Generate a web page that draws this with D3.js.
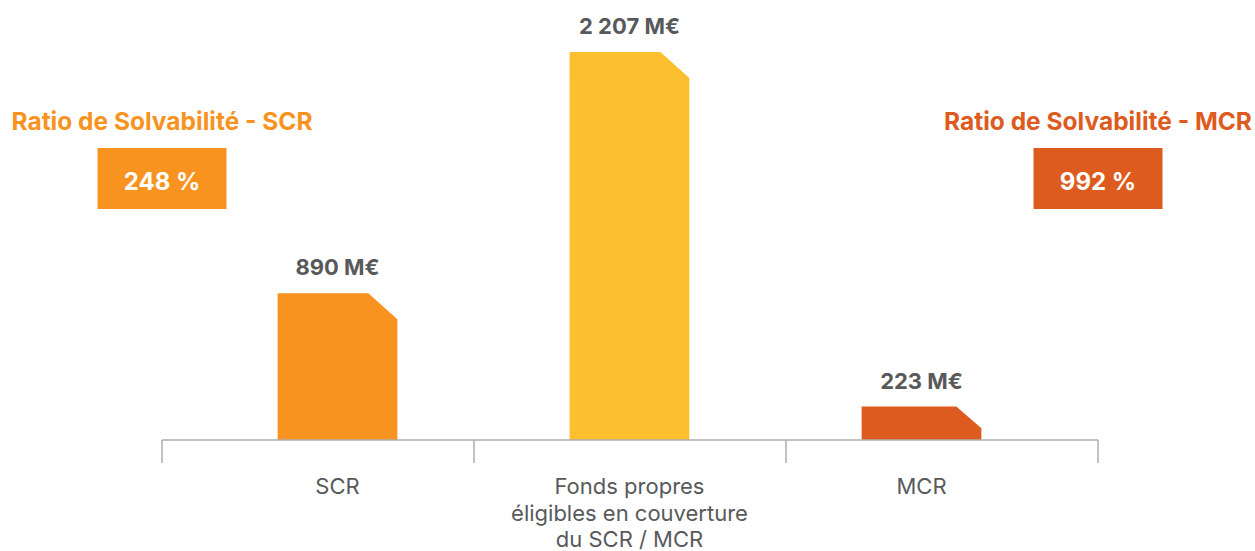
<!DOCTYPE html>
<html>
<head>
<meta charset="utf-8">
<script src="https://cdn.jsdelivr.net/npm/d3@7"></script>
<style>
  body { margin: 0; background: #fff; }
  svg { display: block; font-family: Inter, Lato, sans-serif; }
</style>
</head>
<body>
<div class="container"></div>
<script>
// chart data
const categories = ["SCR", "Fonds propres|éligibles en couverture|du SCR / MCR", "MCR"];
const values = [890, 2207, 223];
const valueLabels = ["890 M€", "2 207 M€", "223 M€"];
const barColors = ["#F7931E", "#FBBF2F", "#DD5B1E"];
const ratioTitles = ["Ratio de Solvabilité - SCR", "Ratio de Solvabilité - MCR"];
const ratioValues = ["248 %", "992 %"];
const ratioColors = ["#F7931E", "#DD5B1E"];

const width = 1255;
const height = 551;
const baseY = 440;

const svg = d3.select(".container")
  .append("svg")
  .attr("width", width)
  .attr("height", height);

// axis sections (wide) and bars (narrower placement)
const xAxis = d3.scaleBand()
  .domain(categories)
  .range([162, 1098])
  .padding(0);

const xBars = d3.scaleBand()
  .domain(categories)
  .range([191.5, 1067.5])
  .paddingInner(0.59)
  .paddingOuter(0.295);

// bars are not drawn to linear scale in the original, a pow scale fits better
const y = d3.scalePow()
  .exponent(1.07)
  .domain([0, 2207])
  .range([baseY, 52]);

const barData = categories.map((c, i) => ({ cat: c, value: values[i], label: valueLabels[i], color: barColors[i] }));

// bar shape with the top right corner cut off
function barPath(d) {
  const x0 = xBars(d.cat);
  const x1 = x0 + xBars.bandwidth();
  const top = y(d.value);
  const h = baseY - top;
  const cx = Math.min(29, h * 0.75);
  const cy = Math.min(26, h * 0.65);
  return `M${x0},${baseY}L${x0},${top}L${x1 - cx},${top}L${x1},${top + cy}L${x1},${baseY}Z`;
}

svg.selectAll("path.bar")
  .data(barData)
  .enter()
  .append("path")
  .attr("class", "bar")
  .attr("d", barPath)
  .attr("fill", d => d.color);

svg.selectAll("text.val")
  .data(barData)
  .enter()
  .append("text")
  .attr("class", "val")
  .attr("x", d => xBars(d.cat) + xBars.bandwidth() / 2)
  .attr("y", d => y(d.value) - 18)
  .attr("text-anchor", "middle")
  .attr("font-size", 22)
  .attr("font-weight", "bold")
  .attr("fill", "#58595B")
  .text(d => d.label);

// baseline and section ticks
const axisG = svg.append("g").attr("stroke", "#AEAEAE").attr("stroke-width", 1.5);
axisG.append("line")
  .attr("x1", xAxis.range()[0]).attr("x2", xAxis.range()[1])
  .attr("y1", baseY).attr("y2", baseY);
const tickXs = categories.map(c => xAxis(c)).concat([xAxis.range()[1]]);
axisG.selectAll("line.tick")
  .data(tickXs)
  .enter()
  .append("line")
  .attr("class", "tick")
  .attr("x1", d => d).attr("x2", d => d)
  .attr("y1", baseY).attr("y2", 463);

// category labels
const catText = svg.selectAll("text.cat")
  .data(barData)
  .enter()
  .append("text")
  .attr("class", "cat")
  .attr("text-anchor", "middle")
  .attr("font-size", 22)
  .attr("fill", "#58595B")
  .attr("y", 494);

catText.selectAll("tspan")
  .data(d => d.cat.split("|").map(t => ({ t, x: xBars(d.cat) + xBars.bandwidth() / 2 })))
  .enter()
  .append("tspan")
  .attr("x", d => d.x)
  .attr("dy", (d, i) => i === 0 ? 0 : 26.5)
  .text(d => d.t);

// ratio boxes
const ratioData = ratioTitles.map((t, i) => ({ title: t, value: ratioValues[i], color: ratioColors[i], cx: tickXs[i * 3] }));

const ratioG = svg.selectAll("g.ratio")
  .data(ratioData)
  .enter()
  .append("g")
  .attr("class", "ratio")
  .attr("transform", d => `translate(${d.cx},0)`);

ratioG.append("text")
  .attr("x", 0)
  .attr("y", 130)
  .attr("text-anchor", "middle")
  .attr("font-size", 24.5)
  .attr("font-weight", "bold")
  .attr("fill", d => d.color)
  .text(d => d.title);

ratioG.append("rect")
  .attr("x", -64.5)
  .attr("y", 148)
  .attr("width", 129)
  .attr("height", 61)
  .attr("fill", d => d.color);

ratioG.append("text")
  .attr("x", 0)
  .attr("y", 190)
  .attr("text-anchor", "middle")
  .attr("font-size", 24)
  .attr("font-weight", "bold")
  .attr("fill", "#fff")
  .text(d => d.value);
</script>
</body>
</html>
